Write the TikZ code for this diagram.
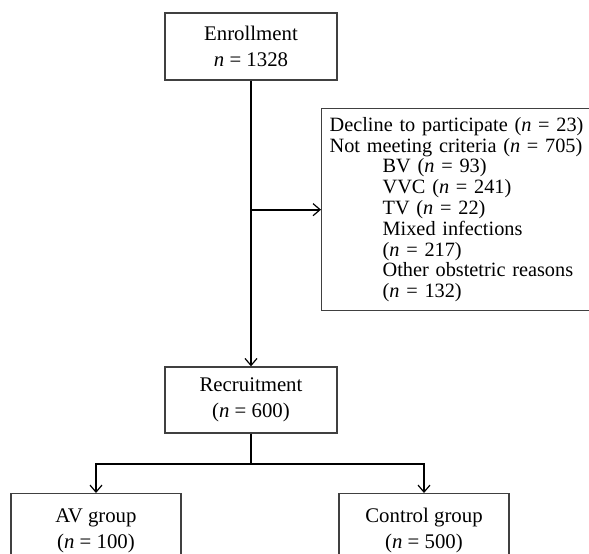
\documentclass[tikz,border=0pt]{standalone}
\usepackage{fontspec}
\setmainfont{Liberation Serif}
\usetikzlibrary{arrows.meta,positioning}

\begin{document}
\begin{tikzpicture}[x=1pt,y=-1pt,
    font=\fontsize{20.8}{26}\selectfont,
    box/.style={draw=black!75,line width=1.3pt,align=center,inner sep=0pt,
                minimum width=172pt},
    group/.style={box,anchor=north,minimum width=170pt,minimum height=74pt},
    link/.style={-{Straight Barb[length=7pt,width=12pt,line width=1.2pt]},line width=2pt}
  ]
    \useasboundingbox (0,0) rectangle (589,554);
    \node[box,minimum height=67pt] (enroll) at (251,46.5) {Enrollment\\\textit{n} = 1328};
    \node[box,anchor=north west,align=left,text width=264pt,minimum height=202pt,
          inner xsep=8pt,font=\fontsize{20.3}{20.8}\selectfont] (excl) at (321,108)
      {Decline to participate (\textit{n} = 23)\\
       Not meeting criteria (\textit{n} = 705)\\
       \hspace*{53pt}BV (\textit{n} = 93)\\
       \hspace*{53pt}VVC (\textit{n} = 241)\\
       \hspace*{53pt}TV (\textit{n} = 22)\\
       \hspace*{53pt}Mixed infections\\
       \hspace*{53pt}(\textit{n} = 217)\\
       \hspace*{53pt}Other obstetric reasons\\
       \hspace*{53pt}(\textit{n} = 132)};
    \node[box,minimum height=66pt] (recruit) at (251,400) {Recruitment\\(\textit{n} = 600)};
    \node[group] (av) at (96,493) {AV group\\(\textit{n} = 100)};
    \node[group] (ctrl) at (424,493) {Control group\\(\textit{n} = 500)};
    \draw[link] (enroll) -- (recruit);
    \draw[link] (enroll.south |- excl.west) -- (excl.west);
    \draw[link] (recruit.south) -- ++(0,30) -| (av.north);
    \draw[link] (recruit.south) -- ++(0,30) -| (ctrl.north);
  \end{tikzpicture}
\end{document}
